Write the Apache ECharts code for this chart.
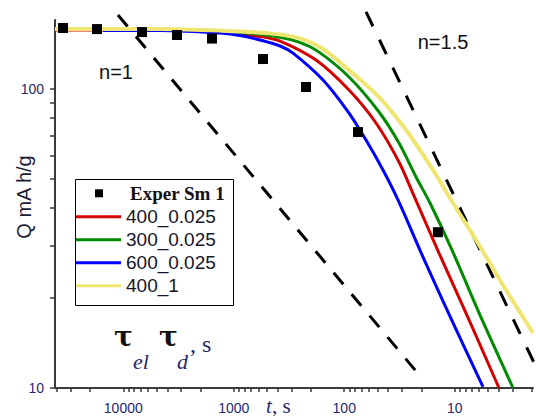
<!DOCTYPE html>
<html><head><meta charset="utf-8">
<script src="https://cdn.jsdelivr.net/npm/echarts@6/dist/echarts.min.js"></script>
<style>html,body{margin:0;padding:0;background:#fff}#c{width:536px;height:416px}</style>
</head><body><div id="c"></div>
<script>
// Experimental points (t in s, Q in mA h/g)
const experT = [35160, 17300, 6775, 3266, 1574, 543.7, 221.8, 75.1, 14.2];
const experQ = [160.0, 158.7, 155.1, 151.6, 147.5, 126.0, 101.6, 71.8, 33.2];

// Model curves
const red_t = [41520, 4654, 1332, 578.9, 381.5, 180.1, 90.55, 51.59, 31.95, 23.36, 13.88, 7.903, 3.972];
const red_q = [157.5, 157.5, 155.1, 149.8, 144.7, 125.0, 99.2, 76.98, 57.0, 43.9, 28.28, 17.81, 10.0];

const green_t = [41520, 4654, 1332, 510.8, 256.8, 169.2, 90.55, 48.44, 31.95, 22.40, 16.74, 10.58, 5.904, 2.967];
const green_q = [158.1, 158.1, 155.7, 151.6, 143.6, 132.9, 109.7, 83.8, 65.97, 50.8, 41.57, 28.94, 17.54, 10.0];

const blue_t = [15270, 4654, 1332, 825, 578.9, 381.5, 290.9, 155.7, 90.55, 63.53, 44.58, 32.62, 19.36, 10.36, 5.545];
const blue_q = [156.9, 156.9, 153.9, 150.4, 145.9, 139.3, 131.9, 107.2, 83.1, 67.51, 53.6, 42.55, 27.42, 16.50, 10.08];

const yellow_t = [41520, 4654, 1332, 510.8, 256.8, 155.7, 90.55, 48.44, 27.60, 15.72, 10.80, 6.417, 3.434, 1.956];
const yellow_q = [158.8, 158.8, 156.9, 153.9, 148.1, 136.1, 115.7, 94.0, 72.94, 53.6, 42.55, 31.26, 21.27, 15.27];

// Guide lines (slopes n=1 and n=1.5)
const n1_t = [11170, 20.19];
const n1_q = [176.8, 10.88];
const n15_t = [63.5, 1.837];
const n15_q = [181.3, 11.77];

// Axis ticks
const xMajorTicks = [10, 100, 1000, 10000];
const xMinorTicks = [2,3,4,5,6,7,8,9, 20,30,40,50,60,70,80,90, 200,300,400,500,600,700,800,900,
                     2000,3000,4000,5000,6000,7000,8000,9000, 20000,30000,40000];
const yMajorTicks = [10, 100];
const yMinorTicks = [20,30,40,50,60,70,80,90];

const xMin = 1.956, xMax = 41520, yMin = 10, yMax = 170.2;

function pairs(a, b) { return a.map((v, i) => [v, b[i]]); }

const labelColor = '#1f2a6e';
const axisColor = '#3a3a3a';
function txt(x, y, text, font, fill, align, extra) {
  return Object.assign({type: 'text', x: x, y: y, style: {text: text, font: font, fill: fill,
    textAlign: align, textVerticalAlign: 'middle', align: align, verticalAlign: 'middle'}}, extra || {});
}

const chart = echarts.init(document.getElementById('c'), null, {renderer: 'svg'});
chart.setOption({
  animation: false,
  backgroundColor: '#ffffff',
  grid: {left: 55, right: 3, top: 20, bottom: 28, containLabel: false, outerBoundsMode: 'none'},
  xAxis: {
    type: 'log', logBase: 10, inverse: true, min: xMin, max: xMax,
    axisLine: {show: true, lineStyle: {color: axisColor, width: 2}},
    axisTick: {show: true, inside: false, length: 4, customValues: xMajorTicks.concat(xMinorTicks), lineStyle: {color: axisColor, width: 1.5}},
    axisLabel: {customValues: xMajorTicks, margin: 13, color: labelColor, fontFamily: 'Liberation Sans', fontSize: 14,
      formatter: v => String(Math.round(v))},
    splitLine: {show: false}, minorTick: {show: false}
  },
  yAxis: {
    type: 'log', logBase: 10, min: yMin, max: yMax,
    axisLine: {show: true, lineStyle: {color: axisColor, width: 2}},
    axisTick: {show: true, inside: false, length: 5, customValues: yMajorTicks.concat(yMinorTicks), lineStyle: {color: axisColor, width: 1.5}},
    axisLabel: {customValues: yMajorTicks, margin: 11, color: labelColor, fontFamily: 'Liberation Sans', fontSize: 14,
      formatter: v => String(Math.round(v))},
    splitLine: {show: false}, minorTick: {show: false}
  },
  legend: [
    {
      data: [{name: 'Exper Sm 1', icon: 'rect', itemStyle: {color: '#000', opacity: 1}}],
      orient: 'vertical', left: 95, top: 181.8, padding: 0, itemGap: 0,
      itemWidth: 8, itemHeight: 8, selectedMode: false,
      textStyle: {fontFamily: 'Liberation Serif', fontWeight: 'bold', fontSize: 19, color: '#111', lineHeight: 23, padding: [0, 0, 0, 22]}
    },
    {
      data: [{name: '400_0.025', icon: 'rect'}, {name: '300_0.025', icon: 'rect'}, {name: '600_0.025', icon: 'rect'}, {name: '400_1', icon: 'rect'}],
      orient: 'vertical', left: 75, top: 205.2, padding: 0, itemGap: 0,
      itemWidth: 46, itemHeight: 3, selectedMode: false,
      textStyle: {fontFamily: 'Liberation Sans', fontSize: 19, color: '#15152a', lineHeight: 23}
    }
  ],
  graphic: [
    {type: 'rect', left: 73, top: 177, shape: {width: 158, height: 126}, style: {fill: 'none', stroke: '#000', lineWidth: 1}, z: 5},
    txt(24, 197, 'Q mA h/g', '20px "Liberation Sans"', '#1b1b33', 'center', {rotation: Math.PI / 2}),
    txt(266, 405.5, 't', 'italic 21px "Liberation Serif"', '#1f2a6e', 'left'),
    txt(272, 405.5, ', s', '21px "Liberation Serif"', '#1f2a6e', 'left'),
    txt(116, 72, 'n=1', '20px "Liberation Sans"', '#111', 'center'),
    txt(443, 42, 'n=1.5', '20px "Liberation Sans"', '#111', 'center'),
    txt(114, 336, 'τ', 'bold 28px "DejaVu Serif"', '#111', 'left'),
    txt(133, 361, 'el', 'italic 22px "Liberation Serif"', '#1f2a6e', 'left'),
    txt(159, 336, 'τ', 'bold 28px "DejaVu Serif"', '#111', 'left'),
    txt(177, 361, 'd', 'italic 22px "Liberation Serif"', '#1f2a6e', 'left'),
    txt(190, 344, ', s', '24px "Liberation Serif"', '#1f2a6e', 'left')
  ],
  series: [
    {name: 'n1', type: 'line', data: pairs(n1_t, n1_q), symbol: 'none', silent: true, z: 1, clip: false,
     lineStyle: {color: '#000', width: 3, type: [15, 13], cap: 'butt'}},
    {name: 'n15', type: 'line', data: pairs(n15_t, n15_q), symbol: 'none', silent: true, z: 1, clip: false,
     lineStyle: {color: '#000', width: 3, type: [16, 15], cap: 'butt'}},
    {name: '400_0.025', type: 'line', data: pairs(red_t, red_q), symbol: 'none', smooth: 0.3, z: 2,
     itemStyle: {color: '#d40000'}, lineStyle: {color: '#d40000', width: 3}},
    {name: '300_0.025', type: 'line', data: pairs(green_t, green_q), symbol: 'none', smooth: 0.3, z: 2,
     itemStyle: {color: '#008a00'}, lineStyle: {color: '#008a00', width: 3}},
    {name: '600_0.025', type: 'line', data: pairs(blue_t, blue_q), symbol: 'none', smooth: 0.3, z: 2,
     itemStyle: {color: '#0000ff'}, lineStyle: {color: '#0000ff', width: 3}},
    {name: '400_1', type: 'line', data: pairs(yellow_t, yellow_q), symbol: 'none', smooth: 0.3, z: 2,
     itemStyle: {color: '#efe672'}, lineStyle: {color: '#efe672', width: 4}},
    {name: 'Exper Sm 1', type: 'scatter', data: pairs(experT, experQ), symbol: 'rect', symbolSize: 10, z: 5,
     itemStyle: {color: '#000', opacity: 1}}
  ]
});
</script>
</body></html>
